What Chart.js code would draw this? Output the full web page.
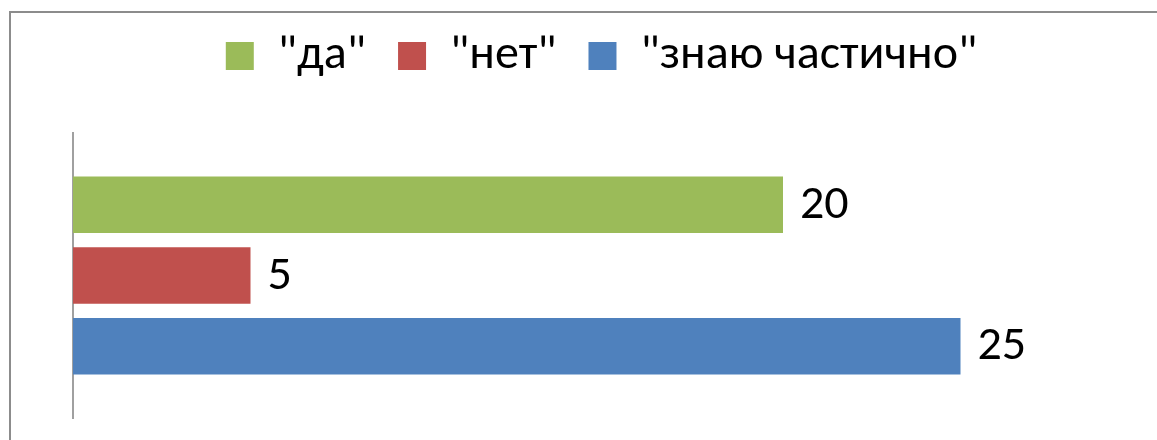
<!DOCTYPE html>
<html>
<head>
<meta charset="utf-8">
<script src="https://cdn.jsdelivr.net/npm/chart.js@4.4.1/dist/chart.umd.min.js"></script>
<style>
  html, body { margin: 0; padding: 0; background: #fff; }
  #wrap { position: relative; width: 1157px; height: 440px; overflow: hidden; }
  #frame { position: absolute; left: 9px; top: 11px; width: 1200px; height: 500px; border: 2px solid #8c8c8c; box-sizing: border-box; }
  canvas { position: absolute; left: 0; top: 0; }
</style>
</head>
<body>
<div id="wrap">
  <div id="frame"></div>
  <canvas id="chart" width="1157" height="440"></canvas>
</div>
<script>
// данные
const categories = [''];
const seriesNames = ['"да"', '"нет"', '"знаю частично"'];
const seriesValues = [[20], [5], [25]];
const seriesColors = ['#9bbb59', '#c0504d', '#4f81bd'];

const fontFamily = 'Carlito, "Liberation Sans Narrow", "DejaVu Sans Condensed", sans-serif';

// подписи значений справа от столбцов
const valueLabels = {
  id: 'valueLabels',
  afterDatasetsDraw(chart) {
    const { ctx } = chart;
    ctx.save();
    ctx.fillStyle = '#000';
    ctx.font = '48px ' + fontFamily;
    ctx.textAlign = 'left';
    ctx.textBaseline = 'middle';
    chart.data.datasets.forEach((ds, i) => {
      const meta = chart.getDatasetMeta(i);
      meta.data.forEach((bar, j) => {
        ctx.fillText(ds.data[j], bar.x + 17, bar.y + 1);
      });
    });
    ctx.restore();
  }
};

// отступ под легендой
const legendGap = {
  id: 'legendGap',
  beforeInit(chart) {
    const fit = chart.legend.fit;
    chart.legend.fit = function () {
      fit.bind(chart.legend)();
      this.height += 43;
    };
  }
};

new Chart(document.getElementById('chart'), {
  type: 'bar',
  data: {
    labels: categories,
    datasets: seriesNames.map((name, i) => ({
      label: name,
      data: seriesValues[i],
      backgroundColor: seriesColors[i],
      borderWidth: 0,
      categoryPercentage: 0.745,
      barPercentage: 0.8
    }))
  },
  options: {
    indexAxis: 'y',
    responsive: false,
    animation: false,
    layout: { padding: { left: 65, right: 19, top: 0, bottom: 22 } },
    plugins: {
      tooltip: { enabled: false },
      legend: {
        position: 'top',
        labels: {
          color: '#000',
          font: { family: fontFamily, size: 48 },
          boxWidth: 28,
          boxHeight: 28,
          padding: 32
        }
      }
    },
    scales: {
      x: { display: false, min: 0, max: 30 },
      y: {
        grid: { display: false },
        border: { display: true, color: '#a0a0a0', width: 2 },
        ticks: { display: false }
      }
    }
  },
  plugins: [valueLabels, legendGap]
});
</script>
</body>
</html>
